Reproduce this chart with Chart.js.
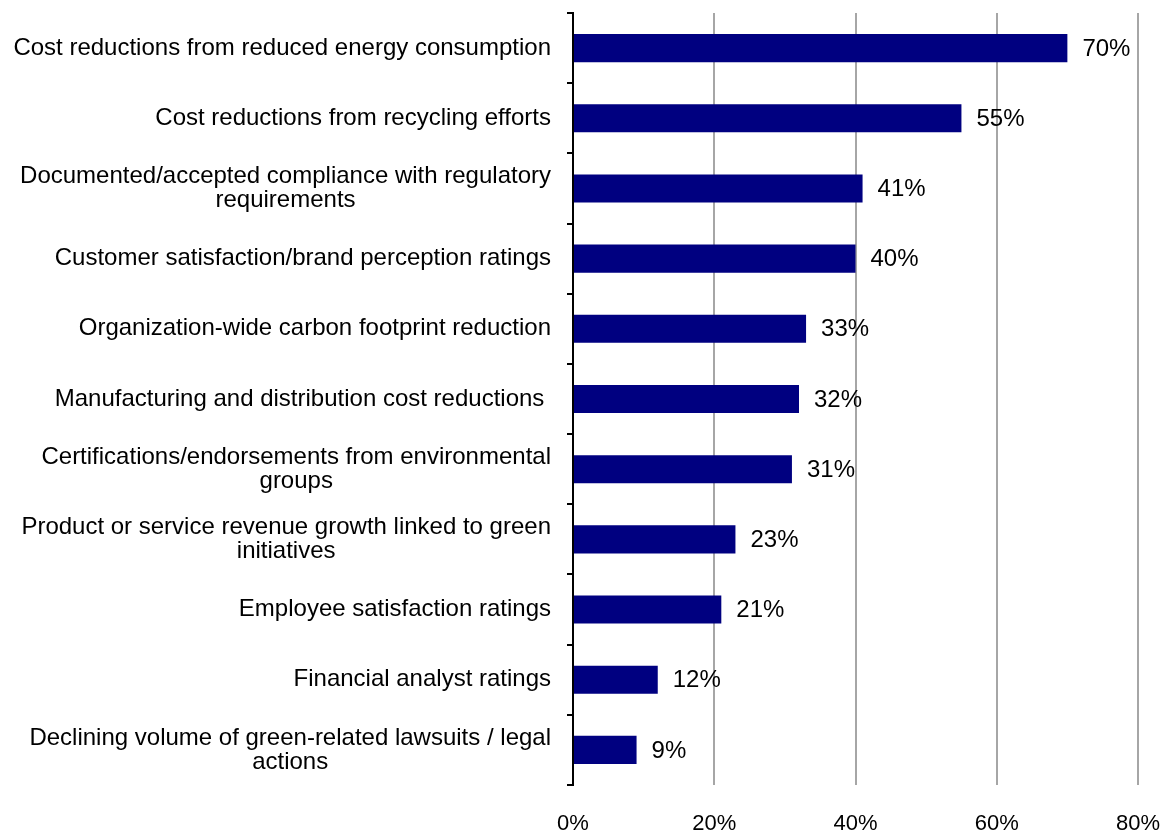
<!DOCTYPE html>
<html>
<head>
<meta charset="utf-8">
<script src="https://cdn.jsdelivr.net/npm/chart.js@4/dist/chart.umd.min.js"></script>
<style>
  html, body { margin: 0; padding: 0; background: #ffffff; }
  #wrap { width: 1164px; height: 833px; position: relative; }
</style>
</head>
<body>
<div id="wrap"><canvas id="chart"></canvas></div>
<script>
// Measures of green-initiative success (share of respondents)
const categories = [
  ["Cost reductions from reduced energy consumption"],
  ["Cost reductions from recycling efforts"],
  ["Documented/accepted compliance with regulatory", "requirements"],
  ["Customer satisfaction/brand perception ratings"],
  ["Organization-wide carbon footprint reduction"],
  ["Manufacturing and distribution cost reductions "],
  ["Certifications/endorsements from environmental", "groups"],
  ["Product or service revenue growth linked to green", "initiatives"],
  ["Employee satisfaction ratings"],
  ["Financial analyst ratings"],
  ["Declining volume of green-related lawsuits / legal", "actions"]
];
const shares = [70, 55, 41, 40, 33, 32, 31, 23, 21, 12, 9];
const xTicks = [0, 20, 40, 60, 80];

const FONT = '"Liberation Sans", Arial, sans-serif';

// Category labels: each block right-aligned to the axis, lines centred within the block
const categoryLabels = {
  id: 'categoryLabels',
  afterDraw(chart) {
    const y = chart.scales.y;
    const ctx = chart.ctx;
    const rightEdge = chart.chartArea.left - 22;
    const lh = 24;
    ctx.save();
    ctx.font = '24px ' + FONT;
    ctx.fillStyle = '#000000';
    ctx.textAlign = 'center';
    ctx.textBaseline = 'middle';
    categories.forEach((lines, i) => {
      const cy = y.getPixelForTick(i);
      const w = Math.max(...lines.map(l => ctx.measureText(l).width));
      const cx = rightEdge - w / 2;
      const top = cy - (lines.length - 1) * lh / 2;
      lines.forEach((l, k) => ctx.fillText(l, cx, top + k * lh));
    });
    ctx.restore();
  }
};

// Value labels at the end of each bar
const valueLabels = {
  id: 'valueLabels',
  afterDatasetsDraw(chart) {
    const ctx = chart.ctx;
    const meta = chart.getDatasetMeta(0);
    ctx.save();
    ctx.font = '24px ' + FONT;
    ctx.fillStyle = '#000000';
    ctx.textAlign = 'left';
    ctx.textBaseline = 'middle';
    meta.data.forEach((bar, i) => {
      ctx.fillText(shares[i] + '%', bar.x + 15, bar.y + 1);
    });
    ctx.restore();
  }
};

new Chart(document.getElementById('chart'), {
  type: 'bar',
  data: {
    labels: categories,
    datasets: [{
      data: shares,
      backgroundColor: '#000080',
      borderWidth: 0,
      barPercentage: 0.4,
      categoryPercentage: 1.0
    }]
  },
  options: {
    indexAxis: 'y',
    responsive: true,
    maintainAspectRatio: false,
    animation: false,
    layout: { padding: { top: 13, right: 26, left: 0, bottom: 0 } },
    plugins: {
      legend: { display: false },
      tooltip: { enabled: false }
    },
    scales: {
      x: {
        min: 0,
        max: 80,
        afterBuildTicks(scale) {
          scale.ticks = xTicks.map(v => ({ value: v }));
        },
        afterFit(scale) {
          scale.height = 48;
          scale.paddingRight = 0;
          scale.paddingLeft = 0;
        },
        grid: {
          color: (c) => c.tick && c.tick.value === 0 ? 'rgba(0,0,0,0)' : '#a6a6a6',
          lineWidth: 2,
          drawTicks: false
        },
        border: { display: false },
        ticks: {
          padding: 26,
          font: { family: FONT, size: 22 },
          color: '#000000',
          callback: (v) => v + '%'
        }
      },
      y: {
        afterFit(scale) { scale.width = 573; },
        grid: {
          offset: true,
          drawOnChartArea: false,
          drawTicks: true,
          tickLength: 6,
          color: '#000000',
          lineWidth: 2
        },
        border: { display: true, color: '#000000', width: 2 },
        ticks: { display: false }
      }
    }
  },
  plugins: [categoryLabels, valueLabels]
});
</script>
</body>
</html>
